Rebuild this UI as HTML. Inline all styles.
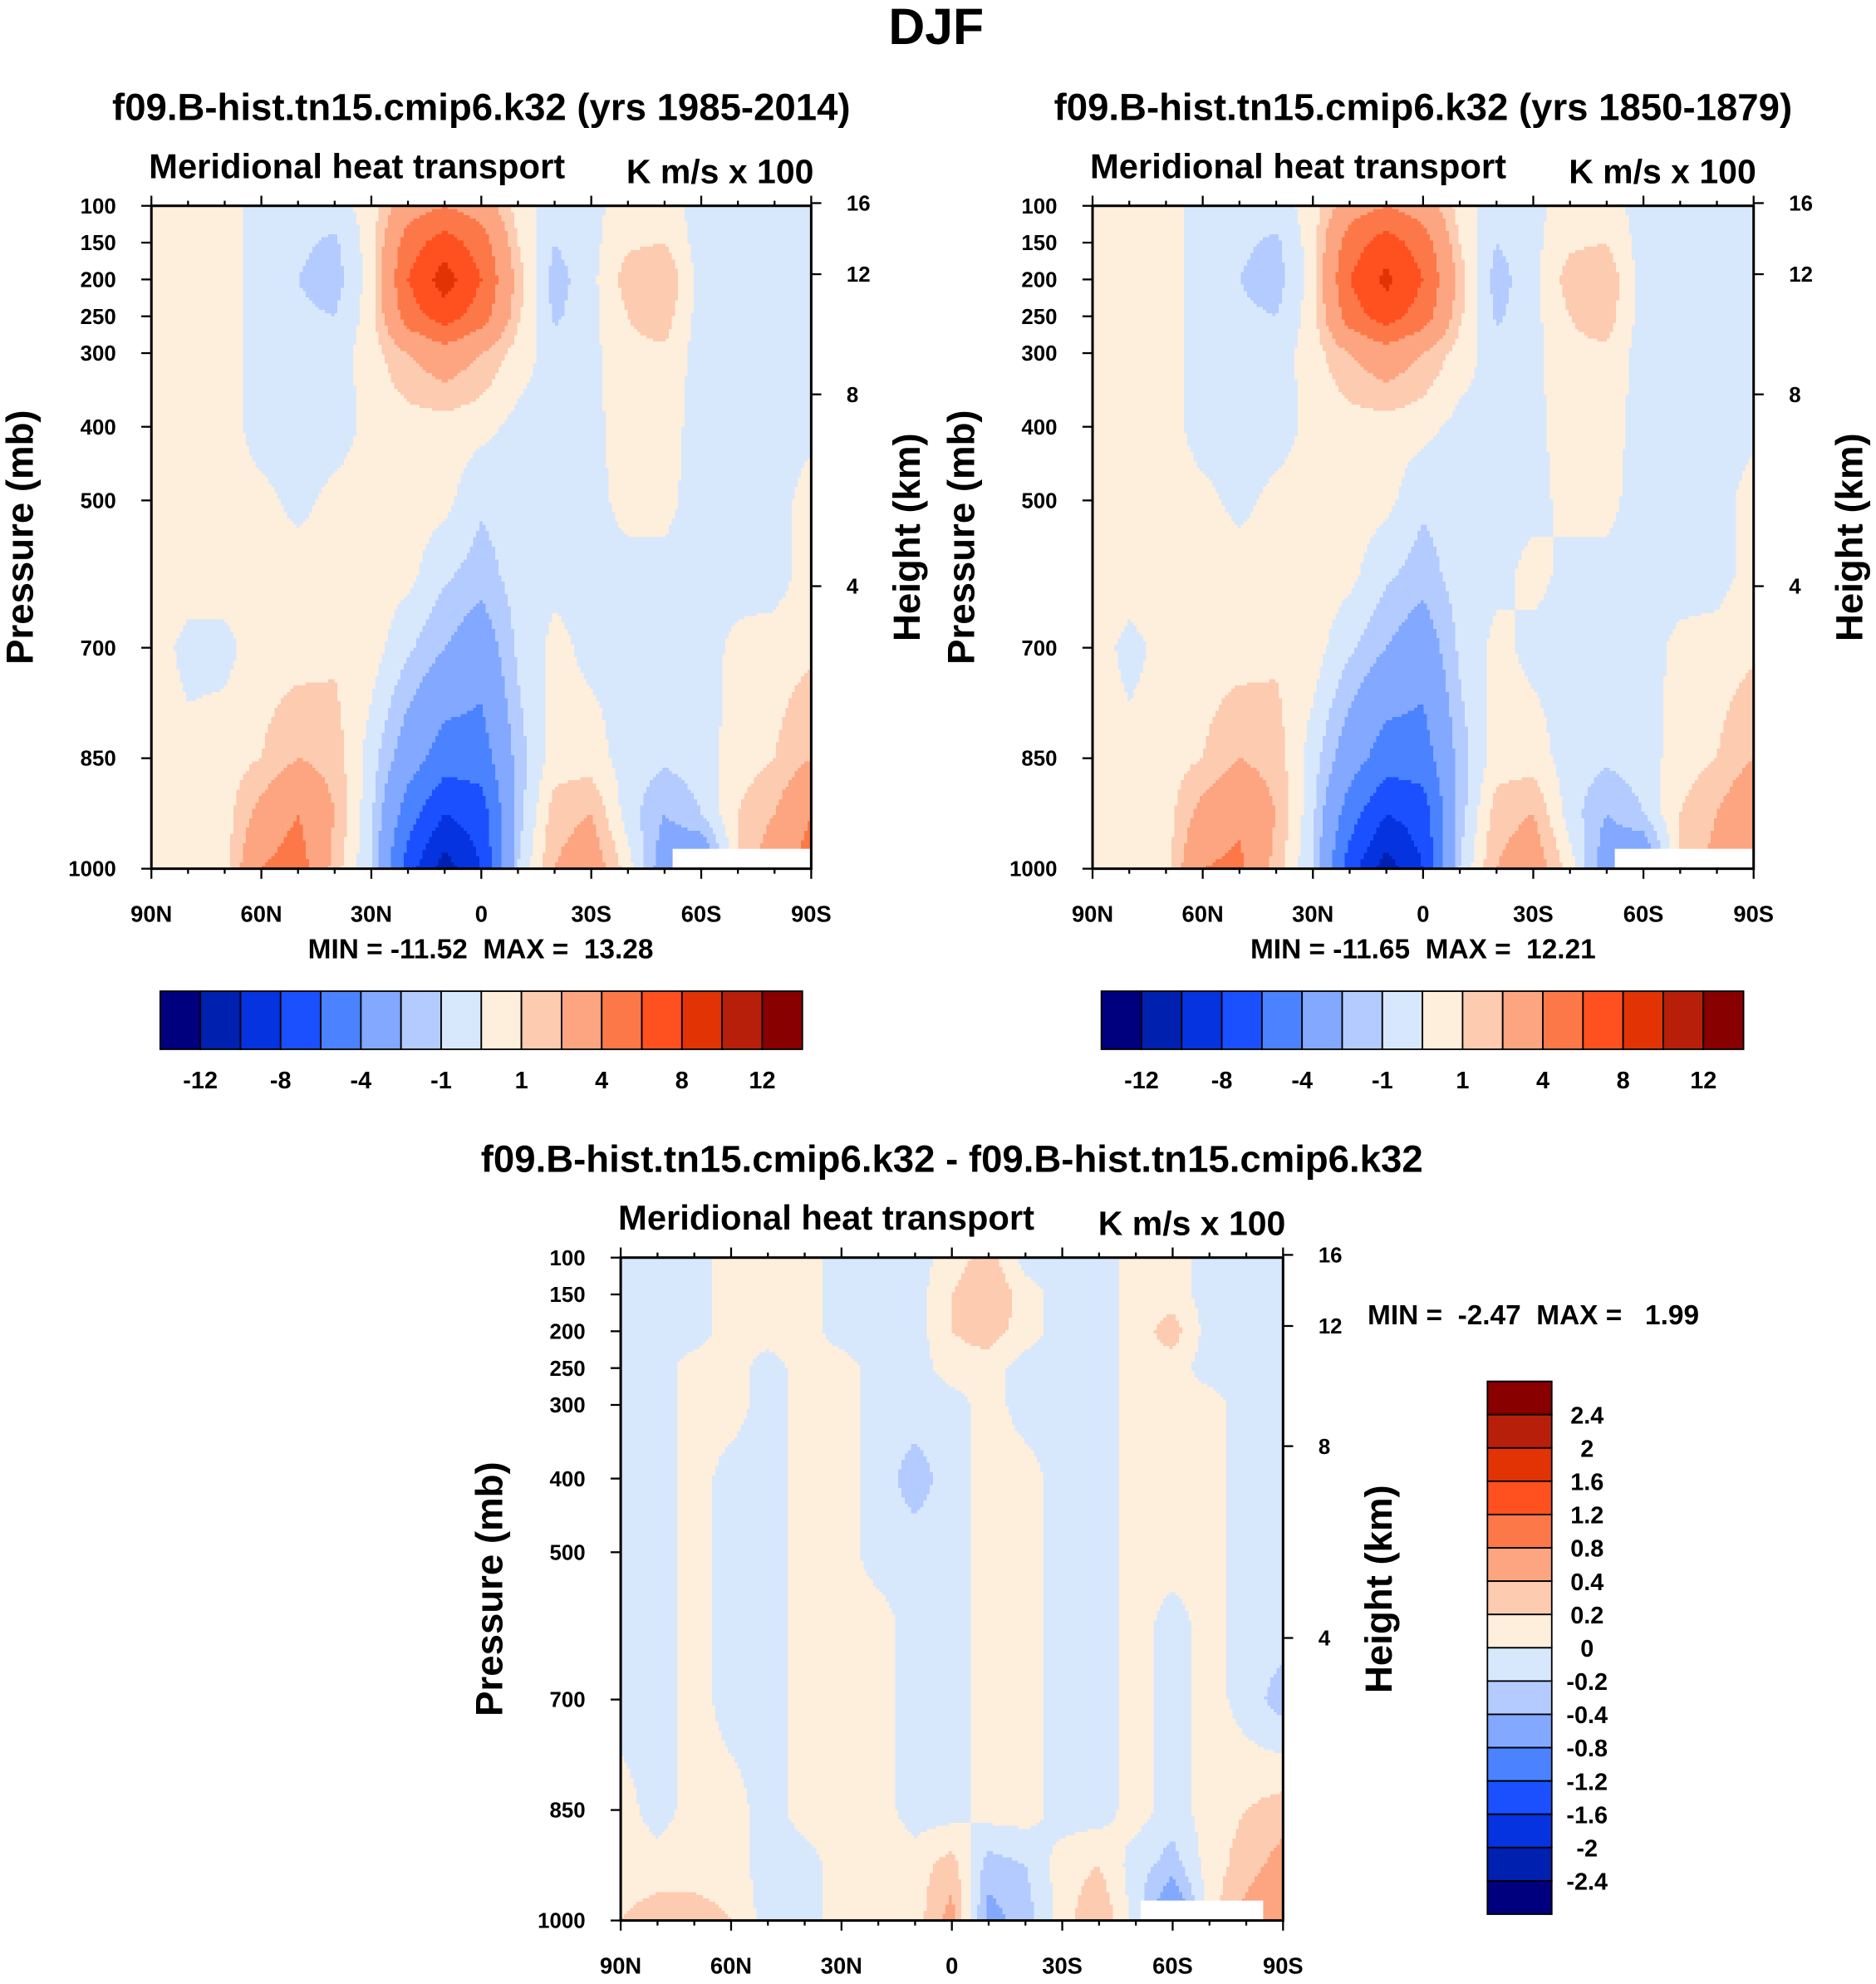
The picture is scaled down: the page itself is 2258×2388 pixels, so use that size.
<!DOCTYPE html>
<html><head><meta charset="utf-8"><title>DJF Meridional heat transport</title>
<style>
html,body{margin:0;padding:0;background:#fff;}
svg text{font-family:"Liberation Sans",Arial,sans-serif;font-weight:bold;fill:#000;}
</style></head>
<body>
<svg id="chart" xmlns="http://www.w3.org/2000/svg" width="2258" height="2383" viewBox="0 0 1487 1568" preserveAspectRatio="none">
<rect x="0" y="0" width="1487" height="1568" fill="#fff"/>
<text x="742" y="35" text-anchor="middle" font-size="40">DJF</text>
<g id="layer"></g>
</svg>
<script>
const LEVELS=[100,150,200,250,300,400,500,600,700,850,925,1000];
const LAT_LABELS=["90N","60N","30N","0","30S","60S","90S"];
const P_TICKS=[100,150,200,250,300,400,500,700,850,1000];
const Z_TICKS=[16,12,8,4];
const BOUNDS_ABS=[-12,-10,-8,-6,-4,-2,-1,0,1,2,4,6,8,10,12];
const CB_LABELS_ABS=["-12","-8","-4","-1","1","4","8","12"];
const BOUNDS_DIFF=[-2.4,-2,-1.6,-1.2,-0.8,-0.4,-0.2,0,0.2,0.4,0.8,1.2,1.6,2,2.4];
const CB_LABELS_DIFF=["2.4","2","1.6","1.2","0.8","0.4","0.2","0","-0.2","-0.4","-0.8","-1.2","-1.6","-2","-2.4"];
const COLORS=["#00007f","#0020b0","#0533e0","#1a50ff","#4a82ff","#82a8ff","#b3cbff","#d8e8fc","#feeedc","#fdcbb0","#fca580","#fd7848","#ff5020","#e23305","#b81f0a","#880000"];

const DATA_1985=[
[.5,.5,.5,-.5,-.5,-.5,.5,3,4,3,.5,-.5,-.3,.5,.5,-.5,-.5,-.5,-.5],
[.5,.5,.5,-.5,-.8,-1.2,.5,5,7,5,1,-1,-.3,.8,1,-.5,-.5,-.5,-.5],
[.5,.5,.5,-.5,-1,-1.5,.5,6,9,6,1.5,-1.5,-.3,1.5,2,-.5,-.5,-.5,-.5],
[.5,.5,.5,-.5,-.8,-1,.5,5,7,5,1.2,-1.2,-.3,1,1.5,-.5,-.5,-.5,-.5],
[.5,.5,.5,-.5,-.5,-.5,.5,2,3,2,.5,-.5,-.3,.8,.8,-.5,-.5,-.5,-.5],
[.5,.5,.5,-.5,-.5,-.5,.3,.5,.5,.3,-.3,-.3,-.3,.5,.5,-.5,-.5,-.5,-.3],
[.5,.5,.5,.3,-.3,.3,.5,.5,.3,-.8,-.5,-.3,-.3,.3,.3,-.5,-.5,-.5,.5],
[.5,.5,.5,.5,.5,.5,.5,.3,-.8,-1.5,-.5,-.3,-.3,-.3,-.3,-.5,-.5,-.5,.5],
[.5,-.3,-.3,.5,.5,.8,.5,-.8,-2,-3,-.8,.3,-.3,-.3,-.3,-.5,.3,.5,.8],
[.5,.3,.5,1,2,1.5,-.5,-3,-5,-5,-1.5,.5,.5,-.5,-.8,-.5,.5,1,2],
[.3,.5,.5,2.5,4,2,-.8,-5,-8,-7,-1.5,1.5,2,-.5,-2,-1,1,2,4],
[.3,.5,.5,4,5,1.5,-1,-7,-11,-8,-1,2,3,.5,-3,-4,1,3,5]];
const DATA_1850=[
[.5,.5,.5,-.5,-.5,-.5,.5,3,4,3,.5,-.5,-.3,.5,.5,-.5,-.5,-.5,-.5],
[.5,.5,.5,-.5,-.8,-1.2,.5,5,7,5,1,-1,-.3,.8,1,-.5,-.5,-.5,-.5],
[.5,.5,.5,-.5,-1,-1.5,.5,6,8.5,6,1.5,-1.5,-.3,1.5,1.8,-.5,-.5,-.5,-.5],
[.5,.5,.5,-.5,-.8,-1,.5,5,7,5,1.2,-1.2,-.3,1,1.5,-.5,-.5,-.5,-.5],
[.5,.5,.5,-.5,-.5,-.5,.5,2,3,2,.5,-.5,-.3,.8,.8,-.5,-.5,-.5,-.5],
[.5,.5,.5,-.5,-.5,-.5,.3,.5,.5,.3,-.3,-.3,-.3,.5,.5,-.5,-.5,-.5,-.3],
[.5,.5,.5,.3,-.3,.3,.5,.5,.3,-.8,-.5,-.3,-.3,.3,.3,-.5,-.5,-.5,.5],
[.5,.5,.5,.5,.5,.5,.5,.3,-.8,-1.5,-.5,-.3,.3,-.3,-.3,-.5,-.5,-.5,.5],
[.5,-.3,.3,.5,.5,.8,.5,-.8,-2,-3,-.8,.3,-.3,-.3,-.3,-.5,.3,.5,.8],
[.5,.3,.5,1,2,1.5,-.5,-3,-5,-5,-1.5,.5,.5,-.5,-.8,-.5,.5,1,2],
[.3,.5,.5,2.5,3.5,2,-.8,-5,-8,-7,-1.5,1.5,2,-.5,-2,-1,1,2,3.5],
[.3,.5,.5,4,4.5,1.5,-1,-7,-11,-8,-1,2,3,.5,-3,-4,1,2.5,4]];
const DATA_DIFF=[
[-.1,-.1,-.1,.1,.1,.1,-.1,-.1,-.1,.1,.3,-.1,-.1,-.1,.1,.1,-.1,-.1,-.1],
[-.1,-.1,-.1,.1,.1,.1,-.1,-.1,-.1,.2,.4,.1,-.1,-.1,.1,.1,-.1,-.1,-.1],
[-.1,-.1,-.1,.1,.1,.1,-.1,-.1,-.1,.2,.3,.1,-.1,-.1,.1,.3,-.1,-.1,-.1],
[-.1,-.1,.1,.1,-.1,.1,.1,-.1,-.1,.1,.1,-.1,-.1,-.1,.1,.1,-.1,-.1,-.1],
[-.1,-.1,.1,.1,-.1,.1,.1,-.1,-.1,-.1,.1,-.1,-.1,-.1,.1,.1,.1,-.1,-.1],
[-.1,-.1,.1,-.1,-.1,.1,.1,-.1,-.3,-.1,.1,.1,-.1,-.1,.1,.1,.1,-.1,-.1],
[-.1,-.1,.1,-.1,-.1,.1,.1,-.1,-.1,-.1,.1,.1,-.1,-.1,.1,.1,.1,-.1,-.1],
[-.1,-.1,.1,-.1,-.1,.1,.1,.1,-.1,-.1,.1,.1,-.1,-.1,.1,-.1,.1,-.1,-.1],
[-.1,-.1,.1,-.1,-.1,.1,.1,.1,-.1,-.1,.1,.1,-.1,-.1,.1,-.1,.1,-.1,-.3],
[.1,-.1,.1,.1,-.1,.1,.1,.1,-.1,-.1,.1,.1,-.1,-.1,.1,-.1,.1,.2,.3],
[.1,.1,.1,.1,-.1,-.1,.1,.1,.1,.3,-.3,-.2,.1,.2,-.1,-.3,.1,.3,.5],
[.2,.3,.3,.2,-.1,-.1,.1,.1,.1,.5,-.5,-.3,.1,.4,-.1,-.8,.1,.5,.8]];

const NS="http://www.w3.org/2000/svg";
const layer=document.getElementById('layer');
function mk(tag,attrs,parent){const e=document.createElementNS(NS,tag);for(const k in attrs)e.setAttribute(k,attrs[k]);(parent||layer).appendChild(e);return e;}
function txt(s,x,y,size,anchor,parent){const t=mk('text',{x:x,y:y,'font-size':size,'text-anchor':anchor||'middle'},parent);t.textContent=s;t.style.whiteSpace='pre';return t;}
function zToP(z){return 1013.25*Math.pow(1-2.25577e-5*z*1000,5.25588);}

function sample(data,c,p){
  let j=0;while(j<LEVELS.length-2&&p>LEVELS[j+1])j++;
  const t=Math.max(0,Math.min(1,(p-LEVELS[j])/(LEVELS[j+1]-LEVELS[j])));
  let i=Math.floor(c);if(i>17)i=17;if(i<0)i=0;const u=Math.max(0,Math.min(1,c-i));
  const a=data[j][i]*(1-u)+data[j][i+1]*u, b=data[j+1][i]*(1-u)+data[j+1][i+1]*u;
  return a*(1-t)+b*t;
}
function level(v,bounds){let k=0;while(k<bounds.length&&v>bounds[k])k++;return k;}

function drawPanel(name,x0,y0,w,h,data,bounds,title,mask){
  const g=mk('g',{});
  
  
  const yOf=p=>y0+(p-100)/900*h;
  const s=2.5;
  const field=mk('g',{'shape-rendering':'crispEdges'},g);
  
  
  function flush(x1,y,runStart,runK){
    const hh=Math.min(s+0.3,y0+h-y);
    const r=mk('rect',{x:runStart,y:y,width:x1-runStart+0.3,height:hh,fill:COLORS[runK]},field);
    
    
  }
  for(let y=y0;y<y0+h;y+=s){
    const p=100+Math.min(h,(y+s/2-y0))/h*900;
    let runStart=x0,runK=-1;
    for(let x=x0;x<x0+w;x+=s){
      const k=level(sample(data,Math.min(18,(x+s/2-x0)/w*18),p),bounds);
      if(k!==runK){
        if(runK>=0)flush(x,y,runStart,runK);
        runStart=x;runK=k;
      }
    }
    if(runK>=0)flush(x0+w,y,runStart,runK);
  }
  if(mask){const m=mk('rect',{x:x0+w*mask[0],y:y0+h*mask[1],width:w*(mask[2]-mask[0]),height:h*(1-mask[1]),fill:'#fff'},g);}
  const fr=mk('rect',{x:x0,y:y0,width:w,height:h,fill:'none',stroke:'#000','stroke-width':2},g);
  
  for(let i=0;i<=18;i++){const x=x0+i*w/18;const L=(i%3===0)?8:4;
    mk('line',{x1:x,y1:y0,x2:x,y2:y0-L,stroke:'#000','stroke-width':1.5},g);
    mk('line',{x1:x,y1:y0+h,x2:x,y2:y0+h+L,stroke:'#000','stroke-width':1.5},g);}
  LAT_LABELS.forEach((l,i)=>{const t=txt(l,x0+i*w/6,y0+h+42,18,'middle',g);});
  P_TICKS.forEach(p=>{const y=yOf(p);mk('line',{x1:x0,y1:y,x2:x0-8,y2:y,stroke:'#000','stroke-width':1.5},g);
    const t=txt(String(p),x0-28,y+6,17,'end',g);});
  Z_TICKS.forEach(z=>{const y=yOf(zToP(z));mk('line',{x1:x0+w,y1:y,x2:x0+w+8,y2:y,stroke:'#000','stroke-width':1.5},g);
    const t=txt(String(z),x0+w+28,y+6,17,'start',g);});
  let t=txt(title,x0+w/2,y0-68,30,'middle',g);
  t=txt('Meridional heat transport',x0-2,y0-22,27.5,'start',g);
  t=txt('K m/s x 100',x0+w+2,y0-18,27,'end',g);
  t=txt('Pressure (mb)',0,0,30,'middle',g);t.setAttribute('transform','translate('+(x0-94)+','+(y0+h/2)+') rotate(-90)');
  
  t=txt('Height (km)',0,0,30,'middle',g);t.setAttribute('transform','translate('+(x0+w+86)+','+(y0+h/2)+') rotate(-90)');
  
}
function hColorbar(name,x0,y0,w,h){
  const g=mk('g',{});
  const bw=w/16;
  COLORS.forEach((c,i)=>{const r=mk('rect',{x:x0+i*bw,y:y0,width:bw,height:h,fill:c,stroke:'#000','stroke-width':1.2},g);});
  CB_LABELS_ABS.forEach((l,i)=>{const t=txt(l,x0+(2*i+1)*bw,y0+h+31,19,'middle',g);});
}
function vColorbar(name,x0,y0,w,h){
  const g=mk('g',{});
  const bh=h/16;
  COLORS.slice().reverse().forEach((c,i)=>{const r=mk('rect',{x:x0,y:y0+i*bh,width:w,height:bh,fill:c,stroke:'#000','stroke-width':1.2},g);});
  CB_LABELS_DIFF.forEach((l,i)=>{const t=txt(l,x0+w+28,y0+(i+1)*bh+7,19,'middle',g);});
}

drawPanel('panel-1985-2014',120,163,523,525,DATA_1985,BOUNDS_ABS,'f09.B-hist.tn15.cmip6.k32 (yrs 1985-2014)',[0.79,0.97,1]);
drawPanel('panel-1850-1879',866,163,524,525,DATA_1850,BOUNDS_ABS,'f09.B-hist.tn15.cmip6.k32 (yrs 1850-1879)',[0.79,0.97,1]);
drawPanel('panel-difference',492,996,525,525,DATA_DIFF,BOUNDS_DIFF,'f09.B-hist.tn15.cmip6.k32 - f09.B-hist.tn15.cmip6.k32',[0.785,0.97,0.97]);
let s=txt('MIN = -11.52  MAX =  13.28',381,759,22,'middle');
s=txt('MIN = -11.65  MAX =  12.21',1128,759,22,'middle');
s=txt('MIN =  -2.47  MAX =   1.99',1084,1049,22,'start');
hColorbar('colorbar-1',127,785,509,46);
hColorbar('colorbar-2',873,785,509,46);
vColorbar('colorbar-diff',1179,1094,51,422);
</script>
</body></html>
